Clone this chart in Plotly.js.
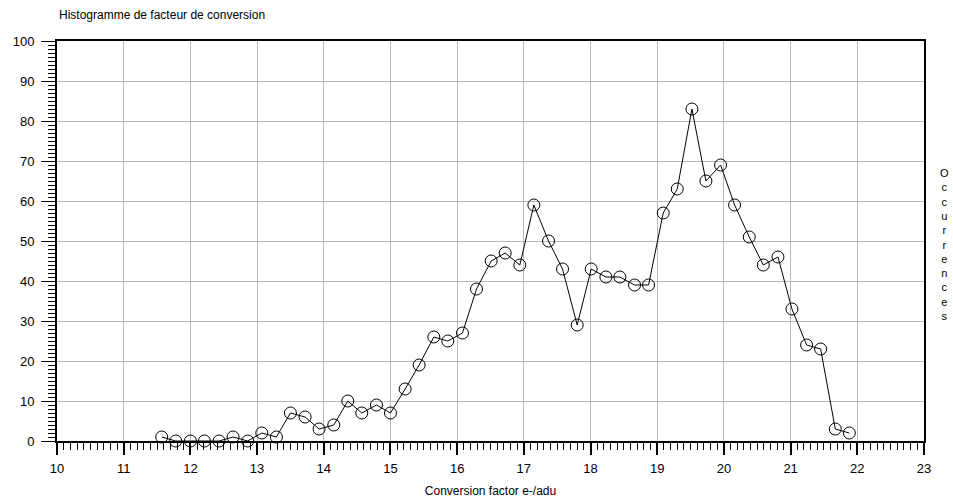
<!DOCTYPE html>
<html>
<head>
<meta charset="utf-8">
<script src="https://cdn.plot.ly/plotly-3.0.1.min.js"></script>
<style>html,body{margin:0;padding:0;background:#fff;}#chart{width:953px;height:502px;}</style>
</head>
<body>
<div id="chart"></div>
<script>
const conversionFactor = [11.57,11.78,12.00,12.21,12.43,12.64,12.86,13.07,13.29,13.50,13.72,13.93,14.15,14.36,14.57,14.79,15.00,15.22,15.43,15.65,15.86,16.08,16.29,16.51,16.72,16.94,17.15,17.37,17.58,17.80,18.01,18.23,18.44,18.66,18.87,19.09,19.30,19.52,19.73,19.95,20.16,20.38,20.59,20.81,21.02,21.24,21.45,21.67,21.88];
const occurrences = [1,0,0,0,0,1,0,2,1,7,6,3,4,10,7,9,7,13,19,26,25,27,38,45,47,44,59,50,43,29,43,41,41,39,39,57,63,83,65,69,59,51,44,46,33,24,23,3,2];
const chartTitle = "Histogramme de facteur de conversion";
const xTitle = "Conversion factor e-/adu";
const yTitle = "Occurrences";

const font = "Liberation Sans, Arial, sans-serif";

const trace = {
  x: conversionFactor, y: occurrences, type: 'scatter', mode: 'lines+markers',
  line: {color: '#000', width: 1},
  marker: {symbol: 'circle-open', size: 12, color: '#000', line: {width: 1, color: '#000'}},
  cliponaxis: false, hoverinfo: 'x+y'
};

const layout = {
  width: 953, height: 502,
  margin: {l: 57, r: 29, t: 41, b: 61},
  paper_bgcolor: '#fff', plot_bgcolor: '#fff',
  showlegend: false,
  font: {family: font, size: 13, color: '#000'},
  xaxis: {
    range: [10, 23], dtick: 1, tick0: 10,
    showgrid: true, gridcolor: '#b8b8b8', gridwidth: 1,
    zeroline: false, showline: true, linecolor: '#000', linewidth: 2, mirror: true,
    ticks: 'outside', ticklen: 12, tickwidth: 2, tickcolor: '#000',
    ticklabelstandoff: 2,
    minor: {dtick: 0.1, ticklen: 7, tickwidth: 1, tickcolor: '#000', showgrid: false},
    tickfont: {family: font, size: 13, color: '#000'},
    title: {text: xTitle, font: {family: font, size: 12, color: '#000'}, standoff: 12}
  },
  yaxis: {
    range: [0, 100], dtick: 10, tick0: 0,
    showgrid: true, gridcolor: '#b8b8b8', gridwidth: 1,
    zeroline: false, showline: true, linecolor: '#000', linewidth: 2, mirror: true,
    ticks: 'outside', ticklen: 14, tickwidth: 1, tickcolor: '#000',
    ticklabelstandoff: 4,
    minor: {dtick: 1, ticklen: 7, tickwidth: 1, tickcolor: '#000', showgrid: false},
    tickfont: {family: font, size: 13, color: '#000'}
  },
  annotations: [
    {xref: 'paper', yref: 'paper', x: 0, y: 1, xshift: 0, yshift: 26, xanchor: 'left', yanchor: 'middle',
     text: chartTitle, showarrow: false, font: {family: font, size: 12, color: '#000'}},
    {xref: 'paper', yref: 'paper', x: 1, y: 0.4925, xshift: 20, xanchor: 'center', yanchor: 'middle',
     text: yTitle.split('').join('<br>'), showarrow: false, font: {family: font, size: 11, color: '#000'}}
  ]
};

Plotly.newPlot('chart', [trace], layout, {displayModeBar: false, staticPlot: true});
</script>
</body>
</html>
